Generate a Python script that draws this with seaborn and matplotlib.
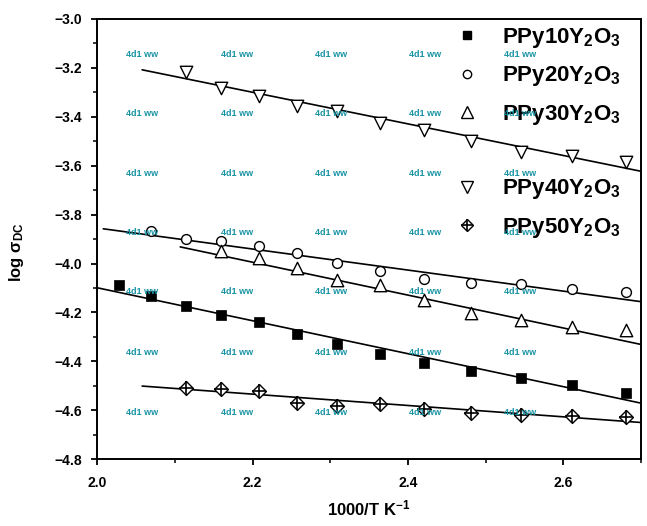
import numpy as np
import pandas as pd
import matplotlib
matplotlib.use('Agg')
import matplotlib.pyplot as plt
import seaborn as sns
from matplotlib.lines import Line2D
from matplotlib.ticker import MultipleLocator

# 1000/T values (T = 493 K ... 373 K)
x_all = [2.028, 2.070, 2.114, 2.160, 2.208, 2.257, 2.309, 2.364, 2.421, 2.481, 2.545, 2.611, 2.681]

ppy10 = [-4.086, -4.133, -4.174, -4.211, -4.238, -4.290, -4.331, -4.371, -4.408, -4.440, -4.467, -4.498, -4.531]
ppy20 = [-3.869, -3.898, -3.909, -3.927, -3.956, -3.999, -4.031, -4.062, -4.079, -4.082, -4.103, -4.117]
ppy30 = [-3.950, -3.977, -4.020, -4.068, -4.086, -4.150, -4.204, -4.231, -4.258, -4.272]
ppy40 = [-3.215, -3.283, -3.314, -3.358, -3.378, -3.426, -3.456, -3.501, -3.542, -3.562, -3.585]
ppy50 = [-4.507, -4.514, -4.521, -4.571, -4.582, -4.576, -4.596, -4.610, -4.619, -4.623, -4.626]

# fitted lines (end points)
fit10_x, fit10_y = [2.0, 2.7], [-4.099, -4.571]
fit20_x, fit20_y = [2.008, 2.7], [-3.858, -4.156]
fit30_x, fit30_y = [2.107, 2.7], [-3.932, -4.331]
fit40_x, fit40_y = [2.058, 2.7], [-3.208, -3.623]
fit50_x, fit50_y = [2.058, 2.7], [-4.501, -4.650]

labels = ['PPy10Y$_2$O$_3$', 'PPy20Y$_2$O$_3$', 'PPy30Y$_2$O$_3$',
          'PPy40Y$_2$O$_3$', 'PPy50Y$_2$O$_3$']

sns.set_theme(style='ticks')
plt.rcParams['font.family'] = ['Liberation Sans', 'DejaVu Sans']
plt.rcParams['font.weight'] = 'bold'
plt.rcParams['text.color'] = 'black'
plt.rcParams['axes.labelcolor'] = 'black'
plt.rcParams['xtick.color'] = 'black'
plt.rcParams['ytick.color'] = 'black'
plt.rcParams['axes.edgecolor'] = 'black'
plt.rcParams['mathtext.fontset'] = 'custom'
plt.rcParams['mathtext.rm'] = 'Liberation Sans:bold'
plt.rcParams['mathtext.it'] = 'Liberation Sans:bold'
plt.rcParams['mathtext.bf'] = 'Liberation Sans:bold'
plt.rcParams['mathtext.default'] = 'bf'

fig = plt.figure(figsize=(6.47, 5.26), dpi=100)
ax = fig.add_axes([0.150, 0.127, 0.841, 0.837])

# fit lines
for fx, fy in [(fit10_x, fit10_y), (fit20_x, fit20_y), (fit30_x, fit30_y),
               (fit40_x, fit40_y), (fit50_x, fit50_y)]:
    sns.lineplot(x=fx, y=fy, ax=ax, color='black', linewidth=1.2, zorder=2)

# points
sns.scatterplot(x=x_all, y=ppy10, ax=ax, marker='s', s=42, color='black',
                edgecolor='black', linewidth=0.5, zorder=3)
sns.scatterplot(x=x_all[1:], y=ppy20, ax=ax, marker='o', s=50, color='white',
                edgecolor='black', linewidth=1.0, zorder=3)
sns.scatterplot(x=x_all[3:], y=ppy30, ax=ax, marker='^', s=80, color='white',
                edgecolor='black', linewidth=1.0, zorder=3)
sns.scatterplot(x=x_all[2:], y=ppy40, ax=ax, marker='v', s=80, color='white',
                edgecolor='black', linewidth=1.0, zorder=3)
sns.scatterplot(x=x_all[2:], y=ppy50, ax=ax, marker='D', s=50, color='white',
                edgecolor='black', linewidth=1.0, zorder=3)
sns.scatterplot(x=x_all[2:], y=ppy50, ax=ax, marker='+', s=110, color='black',
                linewidth=1.2, zorder=4)

ax.set_xlim(2.0, 2.7)
ax.set_ylim(-4.8, -3.0)
ax.xaxis.set_major_locator(MultipleLocator(0.2))
ax.xaxis.set_minor_locator(MultipleLocator(0.1))
ax.yaxis.set_major_locator(MultipleLocator(0.2))
ax.yaxis.set_minor_locator(MultipleLocator(0.1))
ax.tick_params(which='major', direction='out', length=4, width=1.3, labelsize=10, pad=7)
ax.tick_params(which='minor', direction='out', length=3, width=1.1)
ax.tick_params(axis='x', which='major', pad=8)
for lab in ax.get_xticklabels() + ax.get_yticklabels():
    lab.set_fontweight('bold')
for sp in ax.spines.values():
    sp.set_visible(True)
    sp.set_linewidth(1.4)
    sp.set_color('black')

ax.set_xlabel('1000/T K$^{-1}$', fontsize=12, fontweight='bold')
ax.set_ylabel('log $\\sigma_{DC}$', fontsize=12, fontweight='bold')
ax.xaxis.set_label_coords(0.5, -0.09)
ax.yaxis.set_label_coords(-0.13, 0.47)

# legend (blank row between 3rd and 4th entry)
mk = dict(linestyle='none', markeredgecolor='black')
h10 = Line2D([], [], marker='s', markersize=6, markerfacecolor='black', **mk)
h20 = Line2D([], [], marker='o', markersize=6, markerfacecolor='white', markeredgewidth=1.0, **mk)
h30 = Line2D([], [], marker='^', markersize=8, markerfacecolor='white', markeredgewidth=1.0, **mk)
blank = Line2D([], [], linestyle='none')
h40 = Line2D([], [], marker='v', markersize=8, markerfacecolor='white', markeredgewidth=1.0, **mk)
h50a = Line2D([], [], marker='D', markersize=6, markerfacecolor='white', markeredgewidth=1.0, **mk)
h50b = Line2D([], [], marker='+', markersize=9, markeredgewidth=1.2, color='black', linestyle='none')
leg = ax.legend([h10, h20, h30, blank, h40, (h50a, h50b)],
                [labels[0], labels[1], labels[2], '', labels[3], labels[4]],
                loc='upper left', bbox_to_anchor=(0.705, 0.951), bbox_transform=fig.transFigure,
                frameon=False, prop=dict(weight='bold', size=16), handlelength=1.0,
                handletextpad=1.05, labelspacing=0.66, borderpad=0, borderaxespad=0)
leg.set_zorder(5)

# faint watermark text grid (drawn on top, as in the scan)
for cx in [0.083, 0.257, 0.430, 0.603, 0.778]:
    for cy in [0.920, 0.786, 0.650, 0.516, 0.380, 0.243, 0.107]:
        ax.text(cx, cy, '4d1 ww', transform=ax.transAxes, ha='center', va='center',
                fontsize=6.5, color='#1793a3', zorder=6)

fig.savefig('out.png', dpi=100)
